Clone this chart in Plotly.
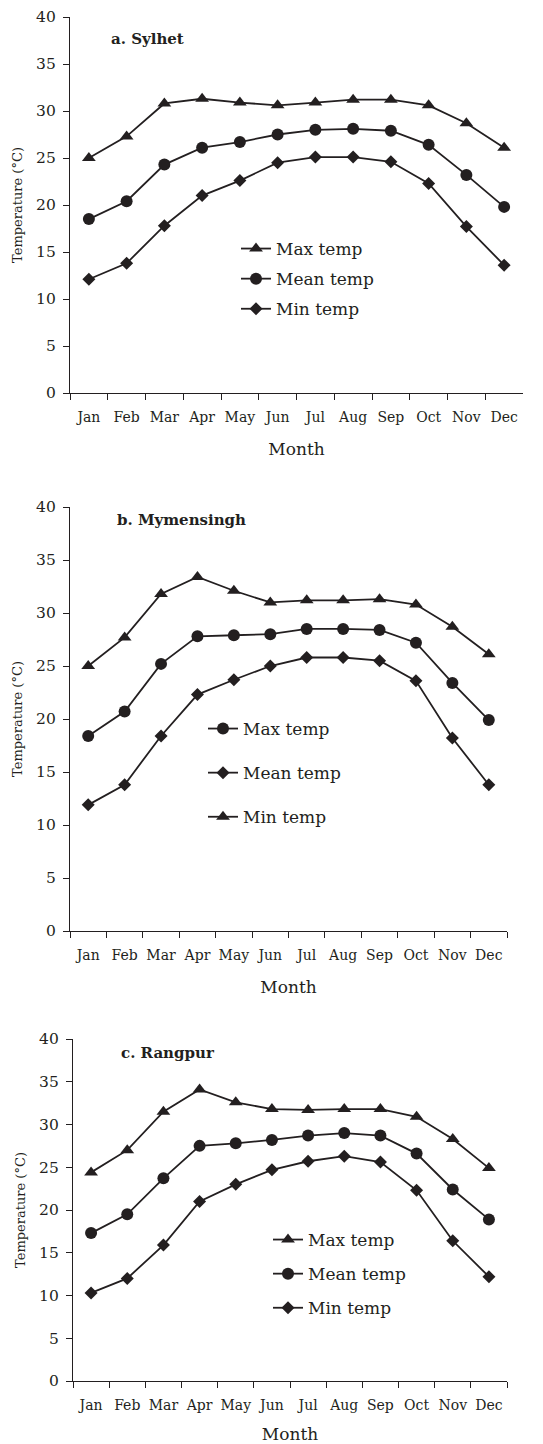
import plotly.graph_objects as go

months = ["Jan", "Feb", "Mar", "Apr", "May", "Jun", "Jul", "Aug", "Sep", "Oct", "Nov", "Dec"]

# a. Sylhet
syl_max = [25.0, 27.3, 30.8, 31.3, 30.9, 30.6, 30.9, 31.2, 31.2, 30.6, 28.7, 26.1]
syl_mean = [18.5, 20.4, 24.3, 26.1, 26.7, 27.5, 28.0, 28.1, 27.9, 26.4, 23.2, 19.8]
syl_min = [12.1, 13.8, 17.8, 21.0, 22.6, 24.5, 25.1, 25.1, 24.6, 22.3, 17.7, 13.6]

# b. Mymensingh (legend labels as printed in the original)
mym_tri = [25.0, 27.7, 31.8, 33.4, 32.1, 31.0, 31.2, 31.2, 31.3, 30.8, 28.7, 26.1]
mym_circ = [18.4, 20.7, 25.2, 27.8, 27.9, 28.0, 28.5, 28.5, 28.4, 27.2, 23.4, 19.9]
mym_diam = [11.9, 13.8, 18.4, 22.3, 23.7, 25.0, 25.8, 25.8, 25.5, 23.6, 18.2, 13.8]

# c. Rangpur
ran_max = [24.4, 27.0, 31.5, 34.1, 32.6, 31.8, 31.7, 31.8, 31.8, 30.9, 28.3, 24.9]
ran_mean = [17.3, 19.5, 23.7, 27.5, 27.8, 28.2, 28.7, 29.0, 28.7, 26.6, 22.4, 18.9]
ran_min = [10.3, 12.0, 15.9, 21.0, 23.0, 24.7, 25.7, 26.3, 25.6, 22.3, 16.4, 12.2]

panel_titles = ["a. Sylhet", "b. Mymensingh", "c. Rangpur"]

INK = "#231f20"
FONT = "DejaVu Serif"
OFF = 8  # page body margin
W, H = 543 - OFF, 1444 - OFF

fig = go.Figure()

sym_size = {"triangle-up": 12, "circle": 12, "diamond": 10}


def add(y, name, sym, idx, lg):
    fig.add_trace(go.Scatter(
        x=months, y=y, name=name, mode="lines+markers",
        line=dict(color=INK, width=1.8),
        marker=dict(symbol=sym, size=sym_size[sym], color=INK),
        xaxis="x" if idx == 1 else f"x{idx}",
        yaxis="y" if idx == 1 else f"y{idx}",
        legend=lg, legendgroup=f"{lg}_{name}",
    ))


add(syl_max, "Max temp", "triangle-up", 1, "legend")
add(syl_mean, "Mean temp", "circle", 1, "legend")
add(syl_min, "Min temp", "diamond", 1, "legend")

add(mym_circ, "Max temp", "circle", 2, "legend2")
add(mym_diam, "Mean temp", "diamond", 2, "legend2")
add(mym_tri, "Min temp", "triangle-up", 2, "legend2")

add(ran_max, "Max temp", "triangle-up", 3, "legend3")
add(ran_mean, "Mean temp", "circle", 3, "legend3")
add(ran_min, "Min temp", "diamond", 3, "legend3")

# pixel geometry (page pixels) of the three plot areas: (left, right, top, bottom)
boxes = [(70, 523, 17, 393), (70, 507, 507, 931), (73, 507, 1039, 1381)]


def px_x(v):
    return (v - OFF) / W


def px_y(v):
    return 1 - (v - OFF) / H


layout = dict(
    width=W, height=H,
    margin=dict(l=0, r=0, t=0, b=0, autoexpand=False),
    paper_bgcolor="white", plot_bgcolor="white",
    font=dict(family=FONT, color=INK),
    showlegend=True,
)

for i, (l, r, t, b) in enumerate(boxes, start=1):
    sx = "" if i == 1 else str(i)
    layout[f"xaxis{sx}"] = dict(
        domain=[px_x(l), px_x(r)], anchor=f"y{sx}",
        type="category", categoryorder="array", categoryarray=months,
        range=[-0.5, 11.5], tickson="boundaries",
        showline=True, linecolor=INK, linewidth=1.3,
        ticks="outside", ticklen=6, tickcolor=INK, tickwidth=1.3,
        showgrid=False, zeroline=False, automargin=False,
        tickangle=0,
        tickfont=dict(size=14, family=FONT, color=INK),
        ticklabelstandoff=11,
        title=dict(text="Month", font=dict(size=17, family=FONT, color=INK), standoff=19),
    )
    layout[f"yaxis{sx}"] = dict(
        domain=[px_y(b), px_y(t)], anchor=f"x{sx}",
        range=[0, 40], dtick=5, tick0=0,
        showline=True, linecolor=INK, linewidth=1.3,
        ticks="outside", ticklen=6, tickcolor=INK, tickwidth=1.3,
        showgrid=False, zeroline=False, automargin=False,
        tickfont=dict(size=15.5, family=FONT, color=INK),
        ticklabelstandoff=4,
        title=dict(text="Temperature (°C)", font=dict(size=13, family=FONT, color=INK), standoff=10),
    )

legend_specs = [("legend", 236, 231, 5), ("legend2", 203, 711, 19), ("legend3", 268, 1222, 9)]
for name, lx, ly, gap in legend_specs:
    layout[name] = dict(
        x=px_x(lx), y=px_y(ly), xanchor="left", yanchor="top",
        bgcolor="rgba(0,0,0,0)", borderwidth=0,
        font=dict(size=17, family=FONT, color=INK),
        traceorder="grouped", tracegroupgap=gap,
        itemclick=False,
    )

fig.update_layout(**layout)

title_pos = [(109, 39), (115, 520), (119, 1053)]
for text, (tx, ty) in zip(panel_titles, title_pos):
    fig.add_annotation(
        x=px_x(tx), y=px_y(ty), xref="paper", yref="paper",
        xanchor="left", yanchor="middle", showarrow=False,
        text=f"<b>{text}</b>", font=dict(size=15, family=FONT, color=INK),
    )

fig.write_html("out.html")
